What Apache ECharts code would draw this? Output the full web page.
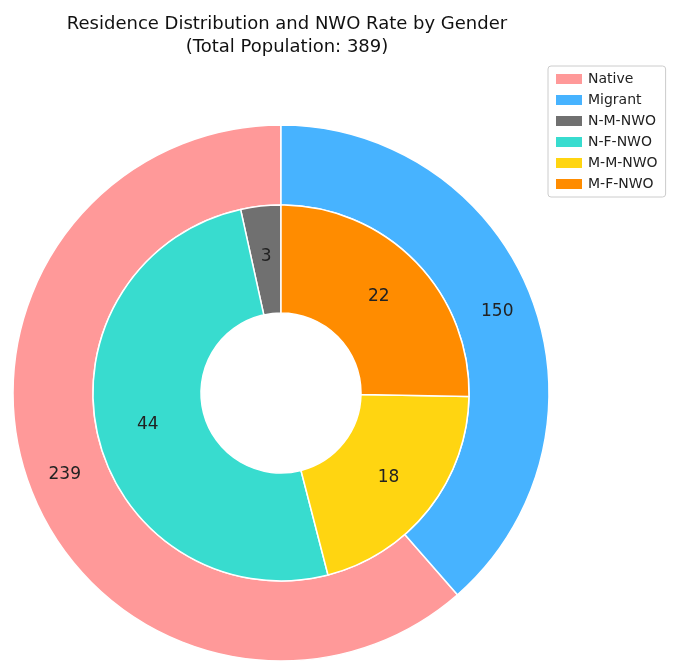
<!DOCTYPE html>
<html><head><meta charset="utf-8">
<script src="https://cdn.jsdelivr.net/npm/echarts@6/dist/echarts.min.js"></script>
<style>html,body{margin:0;padding:0;background:#fff}#c{width:683px;height:670px}</style>
</head><body><div id="c"></div>
<script>
const outerNames = ['Native','Migrant'];
const outerValues = [239,150];
const outerColors = ['#FF9999','#47B3FF'];
const innerNames = ['N-M-NWO','N-F-NWO','M-M-NWO','M-F-NWO'];
const innerValues = [3,44,18,22];
const innerColors = ['#707070','#38DCCF','#FFD511','#FF8C00'];
const center = [281,393];
const lbl = {show:true,position:'inside',color:'#222',fontSize:17,fontFamily:'DejaVu Sans',formatter:'{c}'};
const chart = echarts.init(document.getElementById('c'));
chart.setOption({
  animation:false,
  color: outerColors.concat(innerColors),
  title:{text:'Residence Distribution and NWO Rate by Gender\n(Total Population: 389)',left:282,top:8,textAlign:'center',
    textStyle:{fontFamily:'DejaVu Sans',fontSize:18,fontWeight:'normal',color:'#111',lineHeight:23}},
  legend:{orient:'vertical',left:548,top:66,itemWidth:28,itemHeight:12,itemGap:7,
    borderColor:'#ccc',borderWidth:1,borderRadius:3,padding:[6,8,6,6],
    textStyle:{fontFamily:'DejaVu Sans',fontSize:14,color:'#222'},
    data:outerNames.concat(innerNames),icon:'rect'},
  series:[
    {type:'pie',center:center,radius:[188,268],startAngle:90,clockwise:false,
      itemStyle:{borderColor:'#fff',borderWidth:1.5},label:lbl,labelLine:{show:false},
      data:outerNames.map((n,i)=>({name:n,value:outerValues[i],itemStyle:{color:outerColors[i]}}))},
    {type:'pie',center:center,radius:[80,188],startAngle:90,clockwise:false,
      itemStyle:{borderColor:'#fff',borderWidth:1.5},label:lbl,labelLine:{show:false},
      data:innerNames.map((n,i)=>({name:n,value:innerValues[i],itemStyle:{color:innerColors[i]}}))}
  ]
});
</script></body></html>
